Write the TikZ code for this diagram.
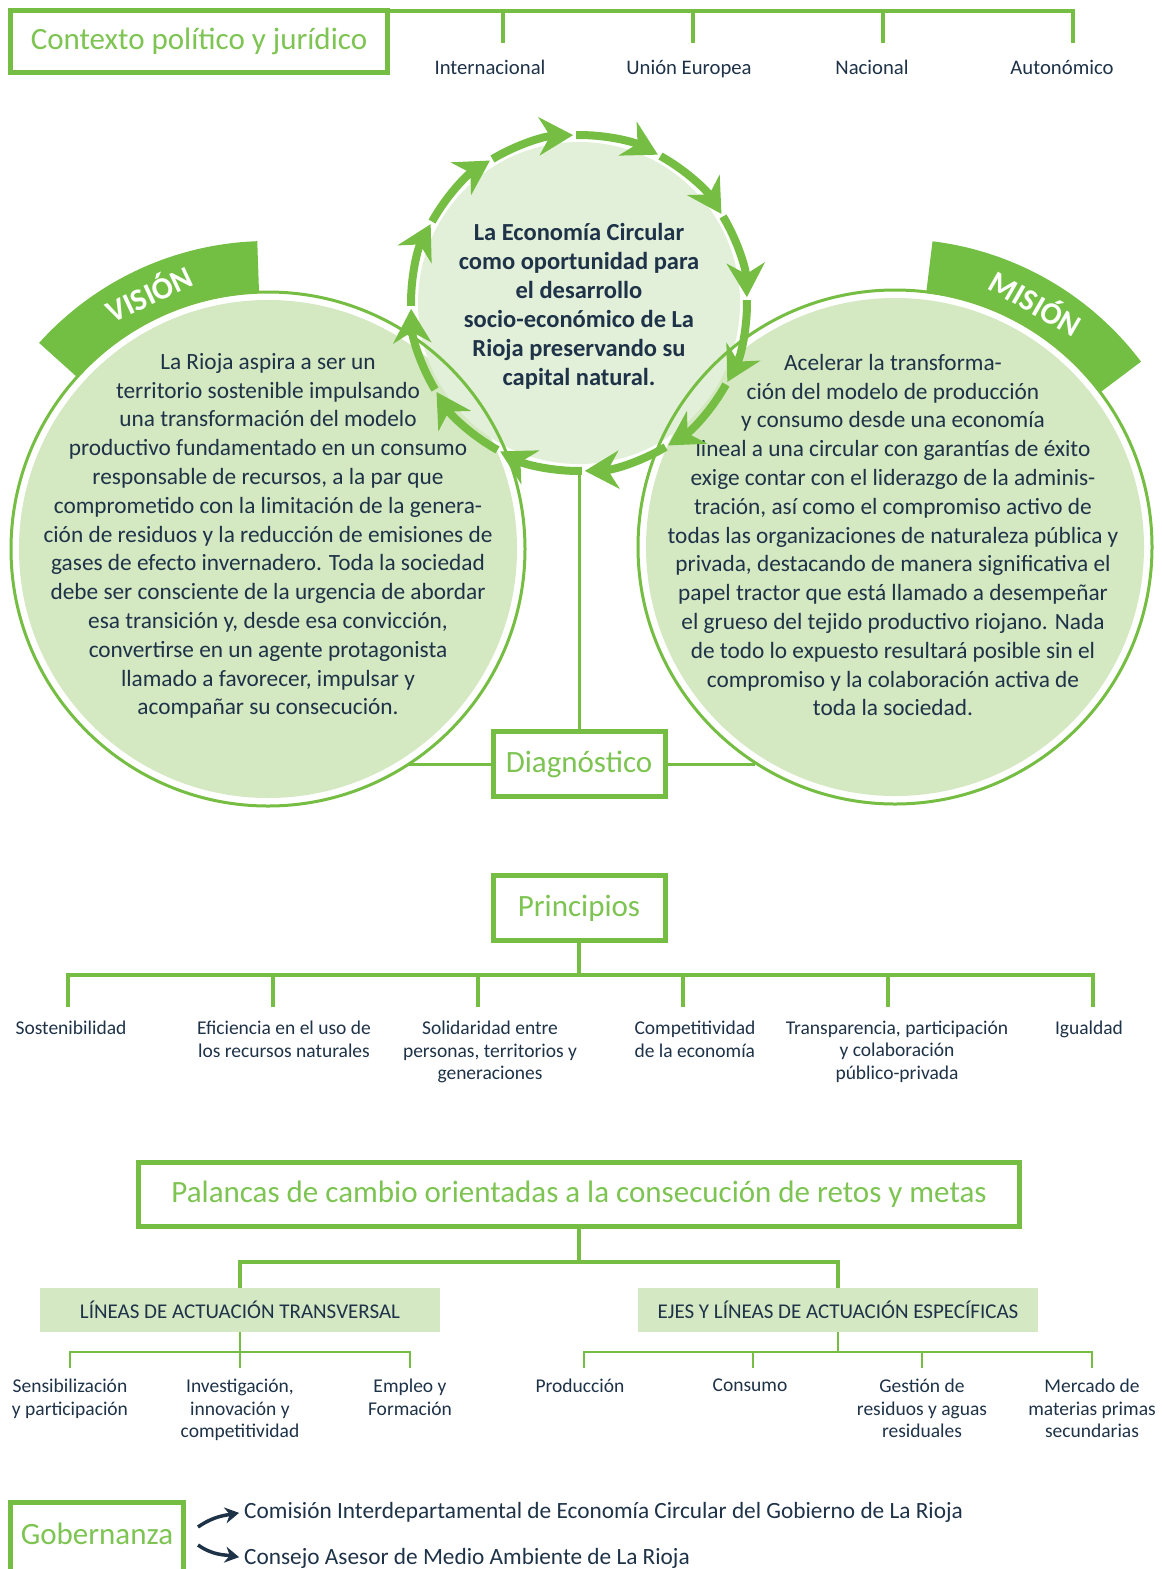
\documentclass[tikz,border=0pt]{standalone}
\usepackage{fontspec}
\setmainfont{Carlito}
\usetikzlibrary{arrows.meta,positioning,calc}
\definecolor{leafgreen}{RGB}{118,190,67}
\definecolor{bannergreen}{RGB}{114,191,68}
\definecolor{titlegreen}{RGB}{125,196,82}
\definecolor{sidefill}{RGB}{212,232,194}
\definecolor{ecofill}{RGB}{226,239,217}
\definecolor{boxfill}{RGB}{213,232,196}
\definecolor{inkblue}{RGB}{30,50,72}
\begin{document}
\begin{tikzpicture}[x=1pt, y=1pt,
    titlebox/.style={draw=leafgreen, line width=5pt, fill=white, text=titlegreen, inner sep=0pt, outer sep=0pt, font=\fontsize{31}{36}\selectfont},
    branch/.style={draw=leafgreen, line width=4pt},
    twig/.style={draw=leafgreen, line width=2pt},
    item/.style={text=inkblue, font=\fontsize{19.5}{22.3}\selectfont, align=center, anchor=north, inner sep=0pt},
    level/.style={text=inkblue, font=\fontsize{20.7}{24}\selectfont, anchor=base, inner sep=0pt},
    body/.style={text=inkblue, font=\fontsize{23.3}{28.8}\selectfont, align=center, inner sep=0pt},
    sidering/.style={circle, draw=leafgreen, line width=3pt, minimum size=514pt, inner sep=0pt, outer sep=0pt},
    ringarrow/.style={draw=leafgreen, line width=8pt, -{Stealth[length=34pt, width=38pt, inset=11pt]}},
    bannertext/.style={text=white, font=\bfseries\fontsize{31}{31}\selectfont, inner sep=0pt},
    subbox/.style={fill=boxfill, minimum width=400pt, minimum height=44pt, text=inkblue, inner sep=0pt, font=\fontsize{21}{24}\selectfont},
    govarrow/.style={draw=inkblue, line width=3.5pt, shorten >=5pt, -{Stealth[length=14pt, width=16pt]}},
    govtext/.style={text=inkblue, font=\fontsize{23.3}{26}\selectfont, anchor=west, inner sep=0pt},
]
\useasboundingbox (0,0) rectangle (1162,-1569);
\fill[white] (0,0) rectangle (1162,-1569);

% Contexto
\node[titlebox, minimum width=377pt, minimum height=62pt] (ctx) at (199,-41.5) {Contexto político y jurídico};
\node[level] (intl) at (490,-74) {Internacional};
\node[level] (ue) at (689,-74) {Unión Europea};
\node[level] (nac) at (872,-74) {Nacional};
\node[level] (auto) at (1062,-74) {Autonómico};
\foreach \i/\x in {1/503, 2/693, 3/883, 4/1073}
    \coordinate (ct\i) at (\x,-43);
\foreach \i in {1,...,4}
    \draw[branch] (ctx.north east) -| (ct\i);

% circles
\coordinate (vc) at (268,-549);
\coordinate (mc) at (895,-547);
\fill[sidefill] (vc) circle (249);
\fill[sidefill] (mc) circle (249);
\fill[bannergreen] ($(vc)+(92:256)$) -- ($(vc)+(92:308)$) arc[start angle=92, end angle=138, radius=308]
    -- ($(vc)+(138:256)$) arc[start angle=138, end angle=92, radius=256] -- cycle;
\fill[bannergreen] ($(mc)+(37:256)$) -- ($(mc)+(37:308)$) arc[start angle=37, end angle=83, radius=308]
    -- ($(mc)+(83:256)$) arc[start angle=83, end angle=37, radius=256] -- cycle;
\node[bannertext, rotate=25] (vislabel) at ($(vc)+(115:283)$) {VISIÓN};
\node[bannertext, rotate=-30] (mislabel) at ($(mc)+(60:283)$) {MISIÓN};
\fill[ecofill] (579,-303) circle (161);
\node[sidering] (vision) at (vc) {};
\node[sidering] (mision) at (mc) {};

\node[body] (vistext) at (268,-536) {La Rioja aspira a ser un\\territorio sostenible impulsando\\una transformación del modelo\\productivo fundamentado en un consumo\\responsable de recursos, a la par que\\comprometido con la limitación de la genera-\\ción de residuos y la reducción de emisiones de\\gases de efecto invernadero. Toda la sociedad\\debe ser consciente de la urgencia de abordar\\esa transición y, desde esa convicción,\\convertirse en un agente protagonista\\llamado a favorecer, impulsar y\\acompañar su consecución.};
\node[body] (mistext) at (893,-535) {Acelerar la transforma-\\ción del modelo de producción\\y consumo desde una economía\\lineal a una circular con garantías de éxito\\exige contar con el liderazgo de la adminis-\\tración, así como el compromiso activo de\\todas las organizaciones de naturaleza pública y\\privada, destacando de manera significativa el\\papel tractor que está llamado a desempeñar\\el grueso del tejido productivo riojano. Nada\\de todo lo expuesto resultará posible sin el\\compromiso y la colaboración activa de\\toda la sociedad.};

% Economía circular
\node[circle, minimum size=344pt, inner sep=0pt, outer sep=0pt, text=inkblue, align=center, font=\bfseries\fontsize{24.5}{29}\selectfont] (eco) at (579,-303) {};
\node[text=inkblue, align=center, inner sep=0pt, font=\bfseries\fontsize{24.5}{29}\selectfont] (ecotext) at (579,-306) {La Economía Circular\\como oportunidad para\\el desarrollo\\socio-económico de La\\Rioja preservando su\\capital natural.};
\foreach \k in {0,...,11}
    \draw[ringarrow] ($(eco.center)+({121-30*\k}:168)$) arc[start angle={121-30*\k}, end angle={92-30*\k}, radius=168];

% Diagnóstico
\node[titlebox, minimum width=172pt, minimum height=65pt] (diag) at (579,-764) {Diagnóstico};
\draw[branch, line width=3pt] (eco.south) -- (diag.north);
\draw[branch, line width=3pt] (diag.west) -- (diag.west -| vision.303.3);
\draw[branch, line width=3pt] (diag.east) -- (diag.east -| mision.237.6);

% Principios
\node[titlebox, minimum width=172pt, minimum height=65pt] (prin) at (579,-908) {Principios};
\coordinate (prinsplit) at (579,-975);
\draw[branch] (prin.south) -- (prinsplit);
\foreach \i in {1,...,6}
    \coordinate (pt\i) at ({68+205*(\i-1)},-1007);
\foreach \i in {1,...,6}
    \draw[branch] (prinsplit) -| (pt\i);
\node[item] (p1) at (71,-1021) {Sostenibilidad};
\node[item] (p2) at (284,-1021) {Eficiencia en el uso de\\los recursos naturales};
\node[item] (p3) at (490,-1021) {Solidaridad entre\\personas, territorios y\\generaciones};
\node[item, align=left] (p4) at (695,-1021) {Competitividad\\de la economía};
\node[item] (p5) at (897,-1021) {Transparencia, participación\\y colaboración\\público-privada};
\node[item] (p6) at (1089,-1021) {Igualdad};

% Palancas
\node[titlebox, minimum width=881pt, minimum height=64pt] (pal) at (579,-1194.5) {Palancas de cambio orientadas a la consecución de retos y metas};
\node[subbox] (lin) at (240,-1310) {LÍNEAS DE ACTUACIÓN TRANSVERSAL};
\node[subbox] (ejes) at (838,-1310) {EJES Y LÍNEAS DE ACTUACIÓN ESPECÍFICAS};
\coordinate (palsplit) at (579,-1262);
\draw[branch] (pal.south) -- (palsplit);
\draw[branch] (lin.north) |- (palsplit) -| (ejes.north);

\coordinate (linsplit) at (240,-1352);
\coordinate (ejesplit) at (838,-1352);
\draw[twig] (lin.south) -- (linsplit);
\draw[twig] (ejes.south) -- (ejesplit);
\foreach \i/\x in {1/70, 2/240, 3/410}
    \draw[twig] (linsplit) -| (\x,-1368);
\foreach \i/\x in {1/584, 2/753, 3/922, 4/1092}
    \draw[twig] (ejesplit) -| (\x,-1368);

\node[item] (l1) at (70,-1379) {Sensibilización\\y participación};
\node[item] (l2) at (240,-1379) {Investigación,\\innovación y\\competitividad};
\node[item] (l3) at (410,-1379) {Empleo y\\Formación};
\node[item] (e1) at (580,-1379) {Producción};
\node[item] (e2) at (750,-1379) {Consumo};
\node[item] (e3) at (922,-1379) {Gestión de\\residuos y aguas\\residuales};
\node[item] (e4) at (1092,-1379) {Mercado de\\materias primas\\secundarias};

% Gobernanza
\node[titlebox, minimum width=173pt, minimum height=90pt, anchor=north] (gobbox) at (97,-1502.5) {};
\node[text=titlegreen, font=\fontsize{31}{36}\selectfont, inner sep=0pt] (gob) at (97,-1534) {Gobernanza};
\node[govtext] (com) at (244,-1512) {Comisión Interdepartamental de Economía Circular del Gobierno de La Rioja};
\node[govtext] (cons) at (244,-1558) {Consejo Asesor de Medio Ambiente de La Rioja};
\coordinate (ga1) at (198,-1527);
\coordinate (ga2) at (198,-1545);
\draw[govarrow] (ga1) to[out=35, in=190] (com.west);
\draw[govarrow] (ga2) to[out=-35, in=170] (cons.west);
\end{tikzpicture}
\end{document}
